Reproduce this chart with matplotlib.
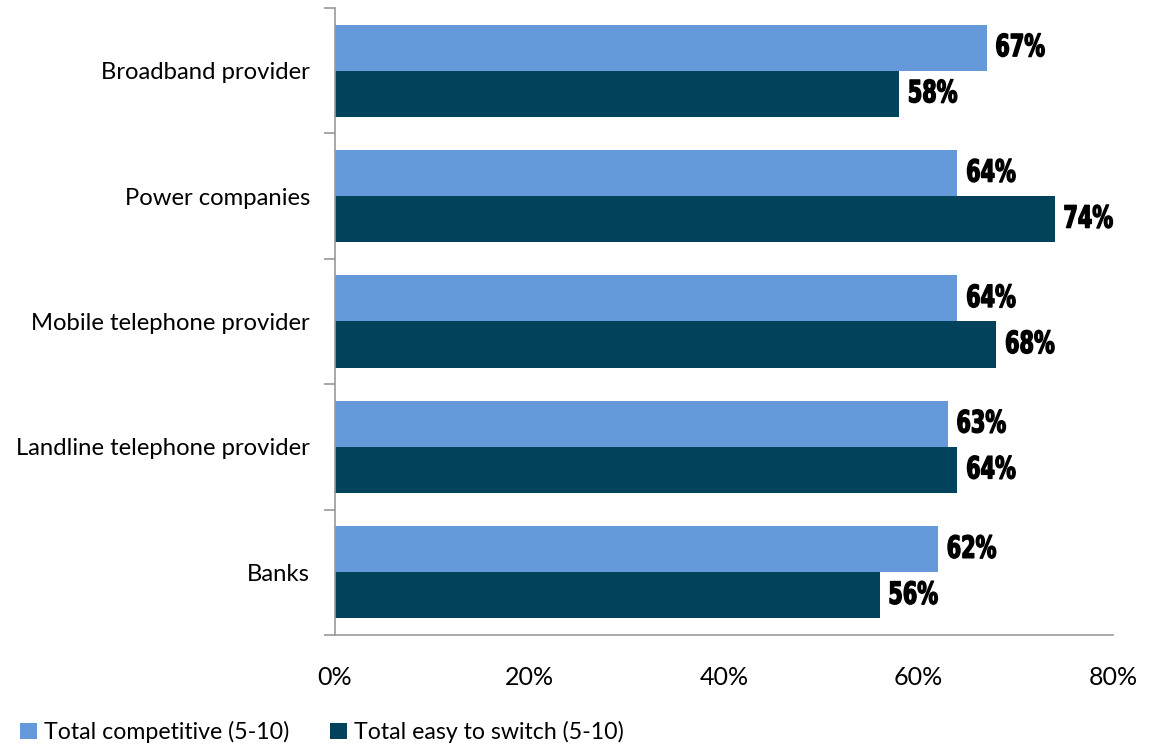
import matplotlib
matplotlib.use('Agg')
import matplotlib.pyplot as plt
import matplotlib.patheffects as pe
from matplotlib.transforms import Affine2D
import numpy as np

# Данные: доли ответов 5-10 по отраслям
categories = ['Broadband provider', 'Power companies', 'Mobile telephone provider',
              'Landline telephone provider', 'Banks']
competitive = [67, 64, 64, 63, 62]   # Total competitive (5-10)
easy_switch = [58, 74, 68, 64, 56]   # Total easy to switch (5-10)
xticks = [0, 20, 40, 60, 80]

light = '#6699D9'
dark = '#02425A'
text_font = ['Lato', 'Open Sans', 'DejaVu Sans']


class Squeeze(pe.AbstractPathEffect):
    """Сжимает текст по горизонтали и чуть утолщает штрих."""

    def __init__(self, sx, lw=1.0):
        super().__init__()
        self.sx = sx
        self.lw = lw

    def draw_path(self, renderer, gc, tpath, affine, rgbFace=None):
        gc0 = renderer.new_gc()
        gc0.copy_properties(gc)
        gc0.set_linewidth(self.lw)
        gc0.set_foreground(rgbFace)
        renderer.draw_path(gc0, tpath, Affine2D().scale(self.sx, 1) + affine, rgbFace)
        gc0.restore()


fig = plt.figure(figsize=(11.57, 7.46), dpi=100)
ax = fig.add_axes([335 / 1157, 1 - 635 / 746, (1113 - 335) / 1157, (635 - 8) / 746])

y = np.arange(len(categories))
h = 0.367
b1 = ax.barh(y - h / 2, competitive, height=h, color=light, label='Total competitive (5-10)')
b2 = ax.barh(y + h / 2, easy_switch, height=h, color=dark, label='Total easy to switch (5-10)')

# Подписи значений справа от столбцов
for bars, vals in [(b1, competitive), (b2, easy_switch)]:
    for bar, v in zip(bars, vals):
        ax.text(v + 0.9, bar.get_y() + bar.get_height() / 2, f'{v}%',
                va='center', ha='left', fontsize=22, fontweight='bold',
                family='DejaVu Sans', color='black',
                path_effects=[Squeeze(0.68, 1.0)])

ax.set_xlim(0, 80)
ax.set_ylim(len(categories) - 0.5, -0.5)
ax.set_xticks(xticks)
ax.set_xticklabels([f'{t}%' for t in xticks], family=text_font, fontsize=18)
ax.set_yticks(y)
ax.set_yticklabels(categories, family=text_font, fontsize=17.2)
ax.set_yticks(np.arange(len(categories) + 1) - 0.5, minor=True)
ax.tick_params(axis='y', which='major', length=0, pad=18)
ax.tick_params(axis='y', which='minor', length=8, color='#999999', width=1.2)
ax.tick_params(axis='x', length=0, pad=22)

for s in ['top', 'right']:
    ax.spines[s].set_visible(False)
for s in ['left', 'bottom']:
    ax.spines[s].set_color('#999999')
    ax.spines[s].set_linewidth(1.2)

fig.legend(handles=[b1, b2], loc='lower left', bbox_to_anchor=(-0.001, -0.024), ncol=2,
           frameon=False, handlelength=0.74, handleheight=0.74, handletextpad=0.3,
           columnspacing=1.75, prop={'family': text_font, 'size': 16.7})

fig.savefig('out.png', dpi=100)
